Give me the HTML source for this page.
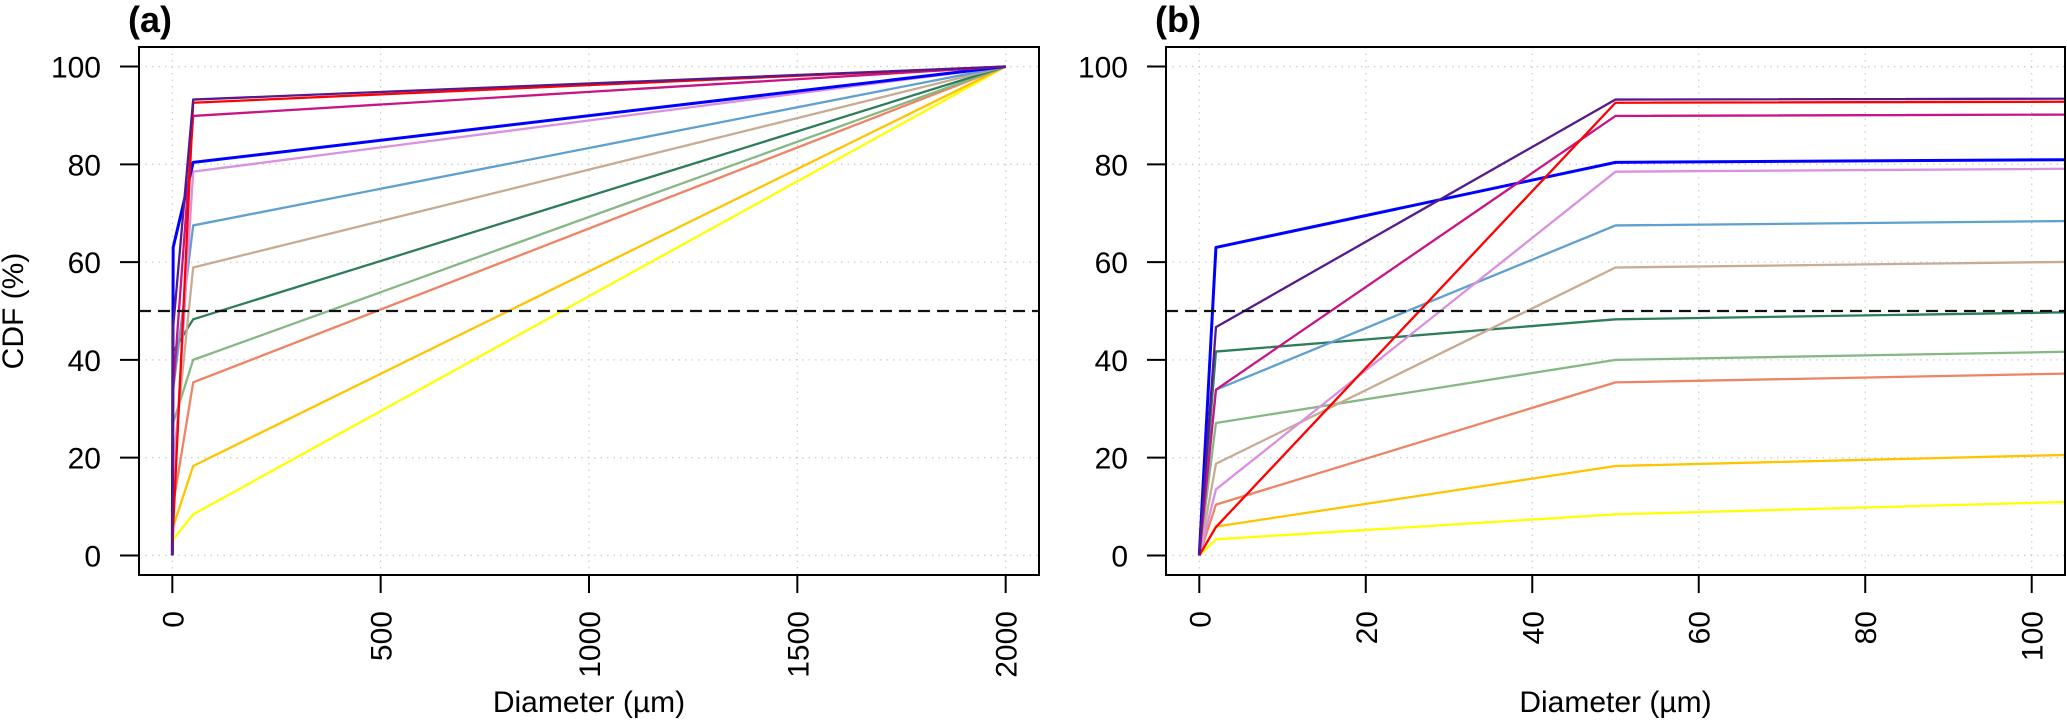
<!DOCTYPE html>
<html><head><meta charset="utf-8"><style>
html,body{margin:0;padding:0;background:#fff;}
svg{display:block;font-family:"Liberation Sans",Arial,sans-serif;}
</style></head><body>
<svg id="chart" width="2067" height="720" viewBox="0 0 2067 720" xmlns="http://www.w3.org/2000/svg"></svg>
<script>
const diameters = [0, 2, 50, 2000];
const seriesNames = ["s-indigo","s-red","s-violetred","s-blue","s-orchid","s-steelblue","s-tan","s-seagreen","s-darkseagreen","s-salmon","s-gold","s-yellow"];
const seriesColors = ["#551A8B","#FF0000","#C71585","#0000FF","#DA90E0","#5FA0CF","#C8AB90","#2E7D5A","#86B886","#EE8466","#FFC400","#FFFF00"];
const valIndigo = [0, 46.7, 93.25, 100];
const valRed = [0, 5.8, 92.6, 100];
const valVioletRed = [0, 33.9, 89.9, 100];
const valBlue = [0, 63, 80.4, 100];
const valOrchid = [0, 13.5, 78.5, 100];
const valSteelBlue = [0, 33.9, 67.5, 100];
const valTan = [0, 18.75, 58.9, 100];
const valSeaGreen = [0, 41.7, 48.3, 100];
const valDarkSeaGreen = [0, 27.1, 40.0, 100];
const valSalmon = [0, 10.4, 35.4, 100];
const valGold = [0, 5.9, 18.3, 100];
const valYellow = [0, 3.3, 8.4, 100];
const seriesValues = [valIndigo,valRed,valVioletRed,valBlue,valOrchid,valSteelBlue,valTan,valSeaGreen,valDarkSeaGreen,valSalmon,valGold,valYellow];
const yTicks = [0, 20, 40, 60, 80, 100];
const xTicksA = [0, 500, 1000, 1500, 2000];
const xTicksB = [0, 20, 40, 60, 80, 100];
const refLine = 50;

const NS = "http://www.w3.org/2000/svg";
const svg = document.getElementById("chart");
function mk(tag, attrs, parent){
  const e = document.createElementNS(NS, tag);
  for (const k in attrs) e.setAttribute(k, attrs[k]);
  (parent||svg).appendChild(e);
  return e;
}
function panel(id, label, left, right, xmin, xmax, xTicks, labelX, showYTitle){
  const top = 47, bottom = 575;
  const ext = (xmax - xmin) * 0.04;
  const x = v => left + (v - (xmin - ext)) / ((xmax + ext) - (xmin - ext)) * (right - left);
  const y = v => bottom - (v + 4) / 108 * (bottom - top);
  const g = mk("g", {});
  
  
  const cid = "clip-" + id;
  const cp = mk("clipPath", {id: cid}, g);
  mk("rect", {x: left, y: top, width: right - left, height: bottom - top}, cp);
  const grid = mk("g", {stroke: "#cfcfcf", "stroke-width": 1.3, "stroke-dasharray": "1.5 5"}, g);
  
  
  xTicks.forEach(t => mk("line", {x1: x(t), x2: x(t), y1: top, y2: bottom}, grid));
  yTicks.forEach(t => mk("line", {x1: left, x2: right, y1: y(t), y2: y(t)}, grid));
  const sg = mk("g", {"clip-path": "url(#" + cid + ")", fill: "none", "stroke-linejoin": "round"}, g);
  for (let i = seriesValues.length - 1; i >= 0; i--) {
    const vals = seriesValues[i];
    const pts = diameters.map((d, j) => x(d).toFixed(2) + "," + y(vals[j]).toFixed(2)).join(" ");
    const pl = mk("polyline", {points: pts, stroke: seriesColors[i], "stroke-width": seriesNames[i] === "s-blue" ? 3 : 2.3}, sg);
    
    
  }
  const rl = mk("line", {x1: left, x2: right, y1: y(refLine), y2: y(refLine), stroke: "#111", "stroke-width": 2.2, "stroke-dasharray": "12 7"}, g);
  
  
  const box = mk("rect", {x: left, y: top, width: right - left, height: bottom - top, fill: "none", stroke: "#000", "stroke-width": 2}, g);
  
  
  yTicks.forEach(t => {
    mk("line", {x1: left - 19, x2: left, y1: y(t), y2: y(t), stroke: "#000", "stroke-width": 2}, g);
    const tx = mk("text", {x: left - 38, y: y(t) + 11, "text-anchor": "end", "font-size": 30, fill: "#000"}, g);
    tx.textContent = t;
    
    
  });
  xTicks.forEach(t => {
    mk("line", {x1: x(t), x2: x(t), y1: bottom, y2: bottom + 18, stroke: "#000", "stroke-width": 2}, g);
    const tx = mk("text", {x: 0, y: 0, "text-anchor": "end", "font-size": 30, fill: "#000", transform: "translate(" + (x(t) + 11) + "," + 611 + ") rotate(-90)"}, g);
    tx.textContent = t;
    
    
  });
  const xt = mk("text", {x: (left + right) / 2, y: 712, "text-anchor": "middle", "font-size": 30, fill: "#000"}, g);
  xt.textContent = "Diameter (µm)";
  
  
  const pt = mk("text", {x: labelX, y: 32, "text-anchor": "middle", "font-size": 36, "font-weight": "bold", fill: "#000"}, g);
  pt.textContent = label;
  
  
  if (showYTitle) {
    const yt = mk("text", {x: 0, y: 0, "text-anchor": "middle", "font-size": 30, fill: "#000", transform: "translate(23,311) rotate(-90)"}, g);
    yt.textContent = "CDF (%)";
    
    
  }
}
panel("a", "(a)", 139, 1039, 0, 2000, xTicksA, 150, true);
panel("b", "(b)", 1166, 2065, 0, 100, xTicksB, 1178, false);
</script>
</body></html>
